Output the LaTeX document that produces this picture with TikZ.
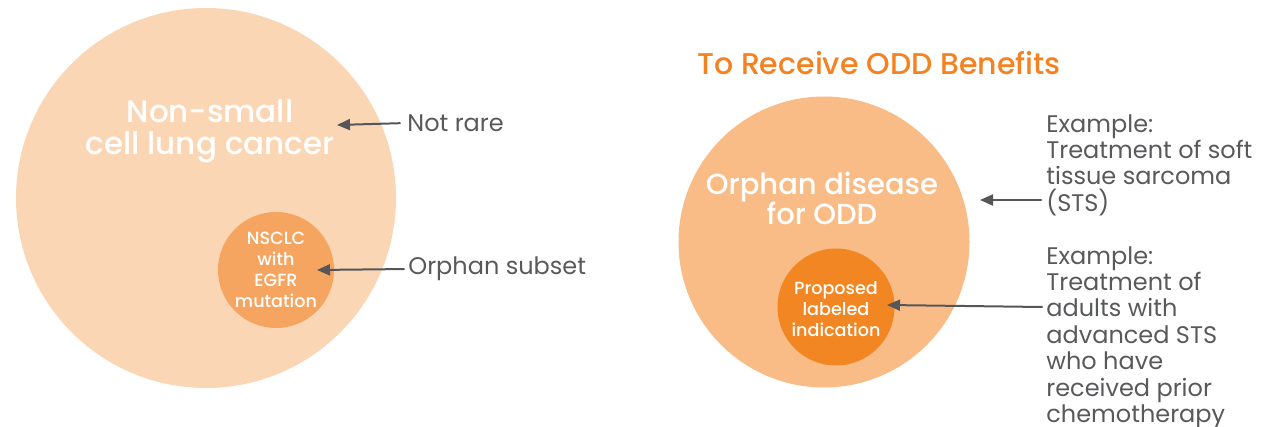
\documentclass[tikz,border=0pt]{standalone}
\usepackage{fontspec}
\setmainfont{Poppins}
\newfontfamily\medfont{Poppins Medium}
\usetikzlibrary{arrows.meta}
\definecolor{peachpale}{HTML}{FBD6B5}
\definecolor{peachmid}{HTML}{F6A560}
\definecolor{peachdeep}{HTML}{FABC86}
\definecolor{oddorange}{HTML}{F28622}
\definecolor{titleorange}{HTML}{F58220}
\definecolor{notegray}{HTML}{58595B}
\definecolor{arrowgray}{HTML}{54565A}
\begin{document}
\begin{tikzpicture}[x=0.5pt,y=-0.5pt,line join=round,line cap=round,>={Triangle[length=6.5pt,width=5.5pt]}]
    \tikzset{disc/.style={circle,inner sep=0pt,draw=none},
             bigtxt/.style={text=white,align=center,inner sep=0pt},
             dottxt/.style={text=white,align=center,inner sep=0pt,font=\medfont\fontsize{8.8}{10.5}\selectfont},
             note/.style={text=notegray,align=left,inner sep=0pt,font=\fontsize{12}{13.2}\selectfont},
             pointer/.style={->,draw=arrowgray,line width=1pt}}
    \useasboundingbox (0,0) rectangle (1275,427);
    % left: the whole disease and its orphan subset
    \node[disc,fill=peachpale,minimum size=190pt] (nsclc) at (206,198) {};
    \node[disc,fill=peachmid,minimum size=58pt] (egfr) at (276,270) {};
    \node[bigtxt,font=\medfont\fontsize{15.5}{16}\selectfont] (nsclctxt) at (210,131) {Non-small\\cell lung cancer};
    \node[dottxt] (egfrtxt) at (276,270) {NSCLC\\with\\EGFR\\mutation};
    \node[note,anchor=west] (notrare) at (407,123) {Not rare};
    \node[note,anchor=west] (orphsub) at (408,269) {Orphan subset};
    \coordinate (nrtip) at (337,125);
    \coordinate (ostip) at (317,270);
    \draw[pointer,shorten <=3.5pt] (notrare.west) -- (nrtip);
    \draw[pointer,shorten <=2pt] (orphsub.west) -- (ostip);
    % right: orphan disease and the labeled indication
    \node[font=\medfont\fontsize{15}{16}\selectfont,text=titleorange] (oddtitle) at (879,63) {To Receive ODD Benefits};
    \node[disc,fill=peachdeep,minimum size=145.5pt] (orphan) at (824,242) {};
    \node[disc,fill=oddorange,minimum size=58.5pt] (label) at (836,307) {};
    \node[bigtxt,font=\medfont\fontsize{14.5}{15}\selectfont] (orphantxt) at (822,198) {Orphan disease\\for ODD};
    \node[dottxt] (labeltxt) at (836,309) {Proposed\\labeled\\indication};
    \node[note,anchor=north west] (ex1) at (1046,114) {Example:\\Treatment of soft\\tissue sarcoma\\(STS)};
    \node[note,anchor=north west] (ex2) at (1046,246) {Example:\\Treatment of\\adults with\\advanced STS\\who have\\received prior\\chemotherapy};
    \coordinate (ststail) at (1041,200);
    \coordinate (ststip) at (980,200);
    \coordinate (indtail) at (1042,307);
    \coordinate (indtip) at (887,305);
    \draw[pointer] (ststail) -- (ststip);
    \draw[pointer] (indtail) -- (indtip);
\end{tikzpicture}
\end{document}
